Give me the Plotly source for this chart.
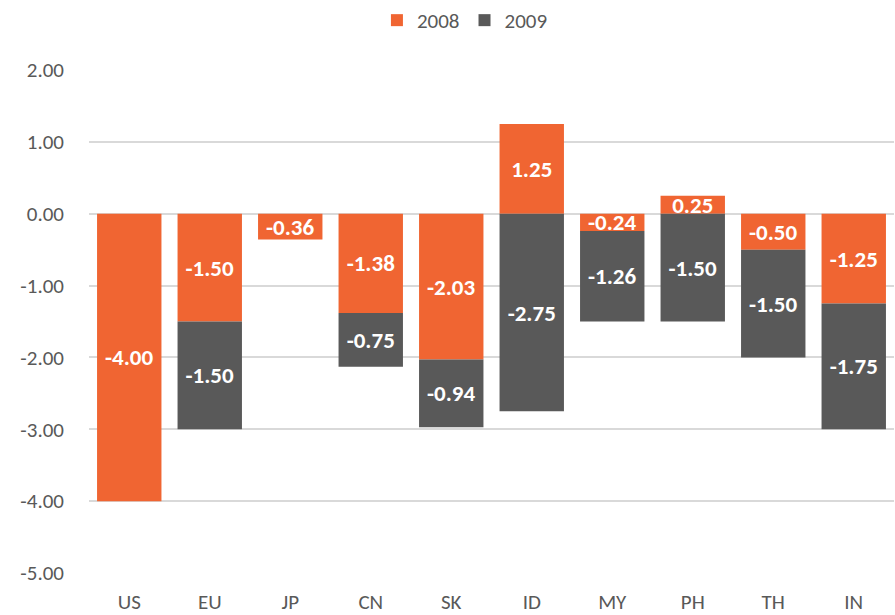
import plotly.graph_objects as go

categories = ["US", "EU", "JP", "CN", "SK", "ID", "MY", "PH", "TH", "IN"]
values_2008 = [-4.00, -1.50, -0.36, -1.38, -2.03, 1.25, -0.24, 0.25, -0.50, -1.25]
values_2009 = [None, -1.50, None, -0.75, -0.94, -2.75, -1.26, -1.50, -1.50, -1.75]
y_ticks = [2, 1, 0, -1, -2, -3, -4, -5]
y_tick_labels = ["2.00", "1.00", "0.00", "-1.00", "-2.00", "-3.00", "-4.00", "-5.00"]

FONT = "Carlito, Lato, 'Liberation Sans', sans-serif"
ORANGE = "#F06532"
GRAY = "#595959"
TEXT = "#595959"
GRID = "#D9D9D9"


def labels(vals):
    return ["" if v is None else f"{v:.2f}" for v in vals]


fig = go.Figure()
for name, vals, color in [("2008", values_2008, ORANGE), ("2009", values_2009, GRAY)]:
    fig.add_trace(go.Bar(
        name=name, x=categories, y=vals, marker_color=color,
        marker_line_width=0,
        text=labels(vals), textposition="inside", textangle=0,
        insidetextanchor="middle", constraintext="none",
        textfont=dict(family=FONT, size=23, color="white", weight="bold"),
    ))

fig.update_layout(
    width=895, height=615,
    barmode="relative", bargap=0.2,
    paper_bgcolor="white", plot_bgcolor="white",
    margin=dict(l=89, r=1, t=70, b=42, autoexpand=False),
    font=dict(family=FONT, color=TEXT, size=21),
    uniformtext=dict(mode="show", minsize=23),
    showlegend=True,
    legend=dict(orientation="h", x=0.467, xanchor="center", y=1.0, yref="container",
                yanchor="top", font=dict(size=21, color=TEXT),
                traceorder="normal", itemwidth=30),
)
fig.update_yaxes(
    range=[-5, 2], tickvals=y_ticks, ticktext=y_tick_labels,
    showgrid=True, gridcolor=GRID, gridwidth=1.5,
    zeroline=True, zerolinecolor=GRID, zerolinewidth=1.5,
    showline=False, ticks="", ticklabelstandoff=24,
    tickfont=dict(size=21, color=TEXT),
)
fig.update_xaxes(
    showgrid=False, showline=False, ticks="", ticklabelstandoff=14,
    tickfont=dict(size=21, color=TEXT),
)

fig.write_html("out.html", config={"displayModeBar": False},
               post_script="document.body.style.margin='0';")
